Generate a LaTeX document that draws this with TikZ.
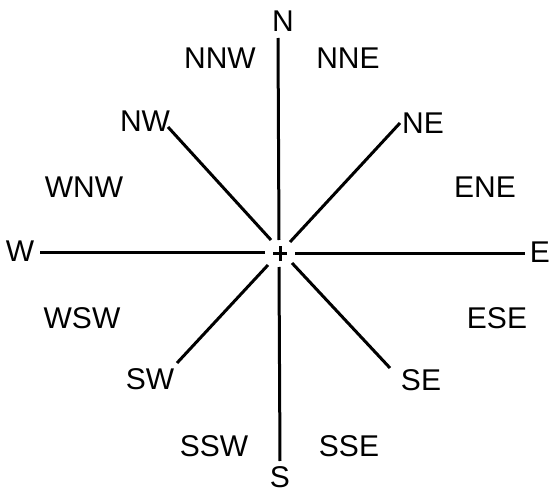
\documentclass[tikz,border=0pt]{standalone}
\usepackage{fontspec}
\setmainfont{Liberation Sans}
\begin{document}
\begin{tikzpicture}[x=1pt,y=-1pt,
  lbl/.style={font=\fontsize{30}{30}\selectfont, inner sep=0pt, anchor=center},
  ray/.style={line width=3pt, line cap=butt}]
\useasboundingbox (0,0) rectangle (550,495);
% labels
\node[lbl] (N) at (283,21) {N};
\node[lbl] (S) at (280,477) {S};
\node[lbl] (W) at (20,251) {W};
\node[lbl] (E) at (540,252) {E};
\node[lbl] (NW) at (145,121) {NW};
\node[lbl] (NE) at (423,123) {NE};
\node[lbl] (SW) at (150,379) {SW};
\node[lbl] (SE) at (421,380) {SE};
\node[lbl] (NNW) at (220,58) {NNW};
\node[lbl] (NNE) at (348,58) {NNE};
\node[lbl] (SSW) at (214,446) {SSW};
\node[lbl] (SSE) at (349,446) {SSE};
\node[lbl] (WNW) at (84,187) {WNW};
\node[lbl] (ENE) at (485,187) {ENE};
\node[lbl] (WSW) at (82,318) {WSW};
\node[lbl] (ESE) at (497,318) {ESE};
% ray endpoints
\coordinate (nT) at (278,38);   \coordinate (nB) at (279,240);
\coordinate (sT) at (279,267);  \coordinate (sB) at (280,461);
\coordinate (wL) at (40,252);   \coordinate (wR) at (265,252);
\coordinate (eL) at (295,253);  \coordinate (eR) at (525,253);
\coordinate (nwO) at (168,127); \coordinate (nwI) at (271,240);
\coordinate (neO) at (400,123); \coordinate (neI) at (290,242);
\coordinate (seI) at (292,263); \coordinate (seO) at (390,368);
\coordinate (swI) at (268,265); \coordinate (swO) at (177,363);
\coordinate (c) at (280,253);
% rays
\draw[ray] (nT) -- (nB);
\draw[ray] (sT) -- (sB);
\draw[ray] (wL) -- (wR);
\draw[ray] (eL) -- (eR);
\draw[ray] (nwO) -- (nwI);
\draw[ray] (neO) -- (neI);
\draw[ray] (seI) -- (seO);
\draw[ray] (swI) -- (swO);
% centre cross
\draw[line width=3pt] ([xshift=-7pt]c) -- ([xshift=7pt]c);
\draw[line width=3pt] ([yshift=-8pt]c) -- ([yshift=7pt]c);
\end{tikzpicture}
\end{document}
